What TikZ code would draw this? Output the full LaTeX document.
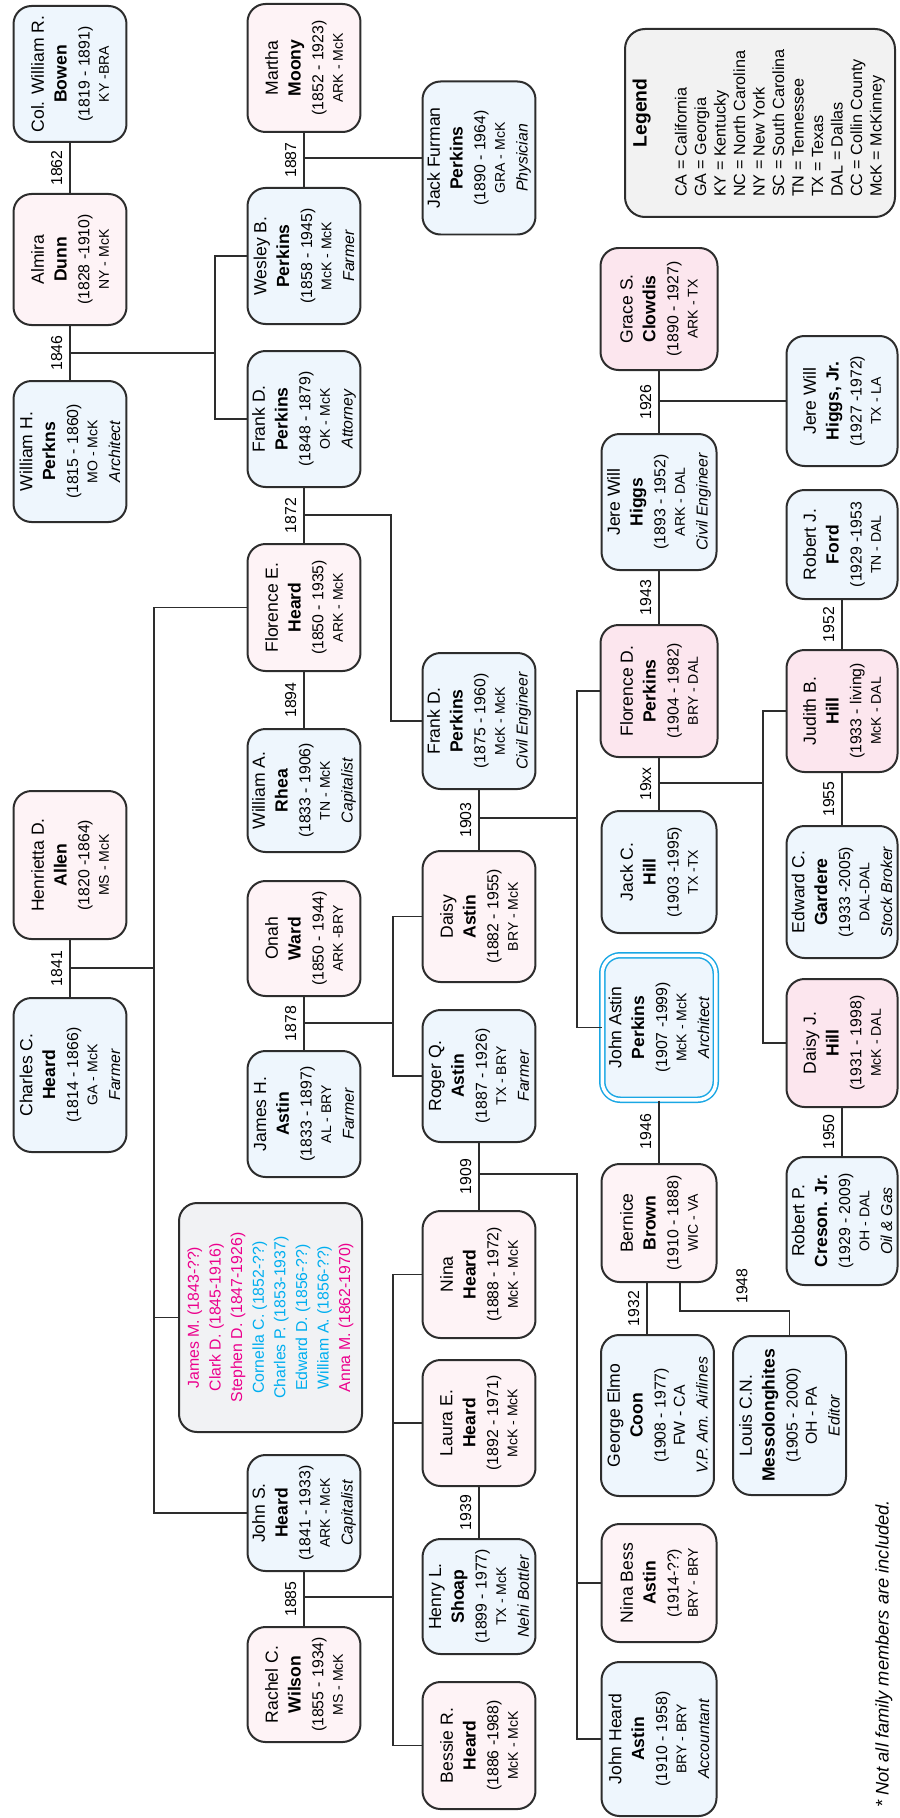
\documentclass[tikz,border=0pt]{standalone}
\usepackage{fontspec}
\setmainfont{Liberation Sans}
\usepackage{tikz}
\usetikzlibrary{positioning}

\definecolor{boyfill}{HTML}{EEF6FD}
\definecolor{girlfill}{HTML}{FEF3F6}
\definecolor{girlfillb}{HTML}{FCE6EE}
\definecolor{sibfill}{HTML}{F1F2F4}
\definecolor{legfill}{HTML}{F2F2F2}
\definecolor{lineclr}{HTML}{2D2D2D}
\definecolor{sibpink}{HTML}{EC008C}
\definecolor{sibcyan}{HTML}{00AEEF}
\definecolor{selfblue}{HTML}{1AA7E4}

\newcommand{\who}[4]{#1\\\textbf{#2}\\{\fontsize{9}{11}\selectfont #3}\\[-2pt]{\fontsize{8}{10}\selectfont #4}}
\newcommand{\whojob}[5]{\who{#1}{#2}{#3}{#4}\\{\fontsize{9}{11}\selectfont\itshape #5}}

\tikzset{
	person/.style={rotate=90, draw=lineclr, line width=0.04cm, rounded corners=0.36cm,
		align=center, inner sep=1pt, font=\fontsize{10}{13}\selectfont, minimum height=2.26cm},
	man/.style={person, fill=boyfill},
	lady/.style={person, fill=girlfill},
	ladyb/.style={person, fill=girlfillb},
	self/.style={man, draw=selfblue, line width=0.03cm, double=white, double distance=0.07cm},
	sibbox/.style={person, fill=sibfill},
	legbox/.style={rotate=90, draw=lineclr, line width=0.04cm, rounded corners=0.4cm, fill=legfill, inner sep=0pt},
	tall/.style={minimum width=#1*0.02cm},
	wide/.style={minimum height=#1*0.02cm},
	yr/.style={rotate=90, anchor=south, font=\fontsize{9}{10}\selectfont, inner xsep=0pt, inner ysep=4pt},
	link/.style={draw=lineclr, line width=0.03cm},
}

\begin{document}
\begin{tikzpicture}[x=0.02cm, y=-0.02cm]
	\useasboundingbox (0, 0) rectangle (899, 1818);

	\node[man, tall=136] (bowen) at (70, 74) {\who{Col. William R.}{Bowen}{(1819 - 1891)}{KY -BRA}};
	\node[lady, tall=131] (dunn) at (70, 259.5) {\who{Almira}{Dunn}{(1828 -1910)}{NY - McK}};
	\node[man, tall=141] (wperkins) at (70, 451.5) {\whojob{William H.}{Perkns}{(1815 - 1860)}{MO - McK}{Architect}};
	\node[lady, tall=148] (allen) at (70, 865) {\who{Henrietta D.}{Allen}{(1820 -1864)}{MS - McK}};
	\node[man, tall=154] (cheard) at (70, 1075) {\whojob{Charles C.}{Heard}{(1814 - 1866)}{GA - McK}{Farmer}};

	\node[lady, tall=128] (moony) at (304, 68) {\who{Martha}{Moony}{(1852 - 1923)}{ARK - McK}};
	\node[man, tall=136] (wesley) at (304, 256) {\whojob{Wesley B.}{Perkins}{(1858 - 1945)}{McK - McK}{Farmer}};
	\node[man, tall=136] (frank1) at (304, 419) {\whojob{Frank D.}{Perkins}{(1848 - 1879)}{OK - McK}{Attorney}};
	\node[lady, tall=127] (fheard) at (304, 607.5) {\who{Florence E.}{Heard}{(1850 - 1935)}{ARK - McK}};
	\node[man, tall=123] (rhea) at (304, 790.5) {\whojob{William A.}{Rhea}{(1833 - 1906)}{TN - McK}{Capitalist}};
	\node[lady, tall=115] (ward) at (304, 938.5) {\who{Onah}{Ward}{(1850 - 1944)}{ARK -BRY}};
	\node[man, tall=126] (jastin) at (304, 1114) {\whojob{James H.}{Astin}{(1833 - 1897)}{AL - BRY}{Farmer}};
	\node[sibbox, tall=229, wide=183, font=\fontsize{9}{12.3}\selectfont] (sibs) at (270.5, 1317.5)
		{\textcolor{sibpink}{James M. (1843-??)}\\\textcolor{sibpink}{Clark D. (1845-1916)}\\
		 \textcolor{sibpink}{Stephen D. (1847-1926)}\\\textcolor{sibcyan}{Cornella C. (1852-??)}\\
		 \textcolor{sibcyan}{Charles P. (1853-1937)}\\\textcolor{sibcyan}{Edward D. (1856-??)}\\
		 \textcolor{sibcyan}{William A. (1856-??)}\\\textcolor{sibpink}{Anna M. (1862-1970)}};
	\node[man, tall=116] (jheard) at (304, 1513) {\whojob{John S.}{Heard}{(1841 - 1933)}{ARK - McK}{Capitalist}};
	\node[lady, tall=115] (wilson) at (304, 1684.5) {\who{Rachel C.}{Wilson}{(1855 - 1934)}{MS - McK}};

	\node[man, tall=153] (furman) at (479, 158) {\whojob{Jack Furman}{Perkins}{(1890 - 1964)}{GRA - McK}{Physician}};
	\node[man, tall=136] (frank2) at (479, 721) {\whojob{Frank D.}{Perkins}{(1875 - 1960)}{McK - McK}{Civil Engineer}};
	\node[lady, tall=131] (dastin) at (479, 916.5) {\who{Daisy}{Astin}{(1882 - 1955)}{BRY - McK}};
	\node[man, tall=132] (roger) at (479, 1076) {\whojob{Roger Q.}{Astin}{(1887 - 1926)}{TX - BRY}{Farmer}};
	\node[lady, tall=127] (nina) at (479, 1274.5) {\who{Nina}{Heard}{(1888 - 1972)}{McK - McK}};
	\node[lady, tall=126] (laura) at (479, 1423) {\who{Laura E.}{Heard}{(1892 - 1971)}{McK - McK}};
	\node[man, tall=115] (shoap) at (479, 1596.5) {\whojob{Henry L.}{Shoap}{(1899 - 1977)}{TX - McK}{Nehi Bottler}};
	\node[lady, tall=127] (bessie) at (479, 1745.5) {\who{Bessie R.}{Heard}{(1886 -1988)}{McK - McK}};

	\node[ladyb, tall=122, wide=117] (grace) at (659, 309) {\who{Grace S.}{Clowdis}{(1890 - 1927)}{ARK - TX}};
	\node[man, tall=136, wide=115] (higgs) at (659, 502) {\whojob{Jere Will}{Higgs}{(1893 - 1952)}{ARK - DAL}{Civil Engineer}};
	\node[ladyb, tall=132, wide=117] (fperkins) at (659, 691) {\who{Florence D.}{Perkins}{(1904 - 1982)}{BRY - DAL}};
	\node[man, tall=122, wide=115] (jhill) at (659, 872) {\who{Jack C.}{Hill}{(1903 -1995)}{TX -TX}};
	\node[self, tall=144.5, wide=113.5] (jperkins) at (659, 1027.5) {\whojob{John Astin}{Perkins}{(1907 -1999)}{McK - McK}{Architect}};
	\node[lady, tall=118, wide=115] (brown) at (659, 1223) {\who{Bernice}{Brown}{(1910 - 1888)}{WIC - VA}};
	\node[man, tall=161] (coon) at (657.5, 1415.5) {\whojob{George Elmo}{Coon}{(1908 - 1977)}{{\fontsize{9}{11}\selectfont FW - CA}}{V.P. Am. Airlines}};
	\node[man, tall=159] (messo) at (789.5, 1415.5) {\whojob{Louis C.N.}{Messolonghites}{(1905 - 2000)}{{\fontsize{9}{11}\selectfont OH - PA}}{Editor}};
	\node[lady, tall=118, wide=115] (nbess) at (659, 1583) {\who{Nina Bess}{Astin}{(1914-??)}{BRY - BRY}};
	\node[man, tall=154, wide=115] (jhastin) at (659, 1739) {\whojob{John Heard}{Astin}{(1910 - 1958)}{BRY - BRY}{Accountant}};

	\node[man, tall=130, wide=111] (higgsjr) at (842, 401) {\who{Jere Will}{Higgs, Jr.}{(1927 -1972)}{TX - LA}};
	\node[man, tall=109, wide=111] (ford) at (842, 544.5) {\who{Robert J.}{Ford}{(1929 -1953}{TN - DAL}};
	\node[ladyb, tall=122, wide=111] (judith) at (842, 711) {\who{Judith B.}{Hill}{(1933 - living)}{McK - DAL}};
	\node[man, tall=132, wide=111] (gardere) at (842, 892) {\whojob{Edward C.}{Gardere}{(1933 -2005)}{DAL-DAL}{Stock Broker}};
	\node[ladyb, tall=128, wide=111] (daisyj) at (842, 1043) {\who{Daisy J.}{Hill}{(1931 - 1998)}{McK - DAL}};
	\node[man, tall=128, wide=111] (creson) at (842, 1221) {\whojob{Robert P.}{Creson. Jr.}{(1929 - 2009)}{OH - DAL}{Oil \& Gas}};

	\node[legbox, tall=188, wide=270, font=\fontsize{9.2}{11.1}\selectfont] (legend) at (760, 123)
		{\begin{tabular}{@{}l@{}}
		 \multicolumn{1}{@{\hspace{0.4cm}}c@{}}{\fontsize{11}{13}\selectfont\bfseries Legend}\\[11.6pt]
		 CA = California\\ GA = Georgia\\ KY = Kentucky\\ NC = North Carolina\\ NY = New York\\
		 SC = South Carolina\\ TN = Tennessee\\ TX = Texas\\ DAL = Dallas\\ CC = Collin County\\
		 McK = McKinney
		 \end{tabular}};

	\node[rotate=90, font=\fontsize{10.4}{12}\selectfont\itshape] (note) at (884, 1654) {* Not all family members are included.};

	\coordinate (m1846) at (70, 353);
	\coordinate (b1846) at (215, 353);
	\coordinate (m1841) at (70, 968);
	\coordinate (b1841) at (154, 968);
	\coordinate (m1887) at (304, 158);
	\coordinate (m1872) at (304, 515);
	\coordinate (b1872) at (391, 515);
	\coordinate (m1878) at (304, 1023);
	\coordinate (b1878) at (393, 1023);
	\coordinate (m1885) at (304, 1597);
	\coordinate (b1885) at (393, 1597);
	\coordinate (m1903) at (479, 818);
	\coordinate (b1903) at (577, 818);
	\coordinate (m1909) at (479, 1174);
	\coordinate (b1909) at (577, 1174);
	\coordinate (m1926) at (659, 401);
	\coordinate (m19xx) at (659, 783);
	\coordinate (b19xx) at (763, 783);
	\coordinate (k1932) at (647, 1300);
	\coordinate (k1948) at (680, 1311);

	\draw [link] (bowen) to node[yr] {1862} (dunn);
	\draw [link] (dunn) to node[yr] {1846} (wperkins);
	\draw [link] (m1846) -- (b1846) |- (wesley);
	\draw [link] (b1846) |- (frank1);
	\draw [link] (allen) to node[yr] {1841} (cheard);
	\draw [link] (m1841) -- (b1841) |- (fheard);
	\draw [link] (b1841) |- (sibs);
	\draw [link] (b1841) |- (jheard);
	\draw [link] (moony) to node[yr] {1887} (wesley);
	\draw [link] (m1887) |- (furman);
	\draw [link] (frank1) to node[yr] {1872} (fheard);
	\draw [link] (m1872) -- (b1872) |- (frank2);
	\draw [link] (fheard) to node[yr] {1894} (rhea);
	\draw [link] (ward) to node[yr] {1878} (jastin);
	\draw [link] (m1878) -- (b1878) |- (dastin);
	\draw [link] (b1878) |- (roger);
	\draw [link] (jheard) to node[yr] {1885} (wilson);
	\draw [link] (m1885) -- (b1885) |- (nina);
	\draw [link] (b1885) |- (laura);
	\draw [link] (b1885) |- (bessie);
	\draw [link] (laura) to node[yr] {1939} (shoap);
	\draw [link] (frank2) to node[yr] {1903} (dastin);
	\draw [link] (m1903) -- (b1903) |- (fperkins);
	\draw [link] (b1903) |- (jperkins);
	\draw [link] (roger) to node[yr] {1909} (nina);
	\draw [link] (m1909) -- (b1909) |- (nbess);
	\draw [link] (b1909) |- (jhastin);
	\draw [link] (grace) to node[yr] {1926} (higgs);
	\draw [link] (m1926) |- (higgsjr);
	\draw [link] (higgs) to node[yr] {1943} (fperkins);
	\draw [link] (fperkins) to node[yr] {19xx} (jhill);
	\draw [link] (m19xx) -- (b19xx) |- (judith);
	\draw [link] (b19xx) |- (daisyj);
	\draw [link] (jperkins) to node[yr] {1946} (brown);
	\draw [link] (k1932 |- brown.west) to node[yr] {1932} (k1932 |- coon.east);
	\draw [link] (k1948 |- brown.west) -- (k1948) -| (messo);
	\node[yr, anchor=center] (y1948) at (742, 1286) {1948};
	\draw [link] (ford) to node[yr] {1952} (judith);
	\draw [link] (judith) to node[yr] {1955} (gardere);
	\draw [link] (daisyj) to node[yr] {1950} (creson);
\end{tikzpicture}
\end{document}
